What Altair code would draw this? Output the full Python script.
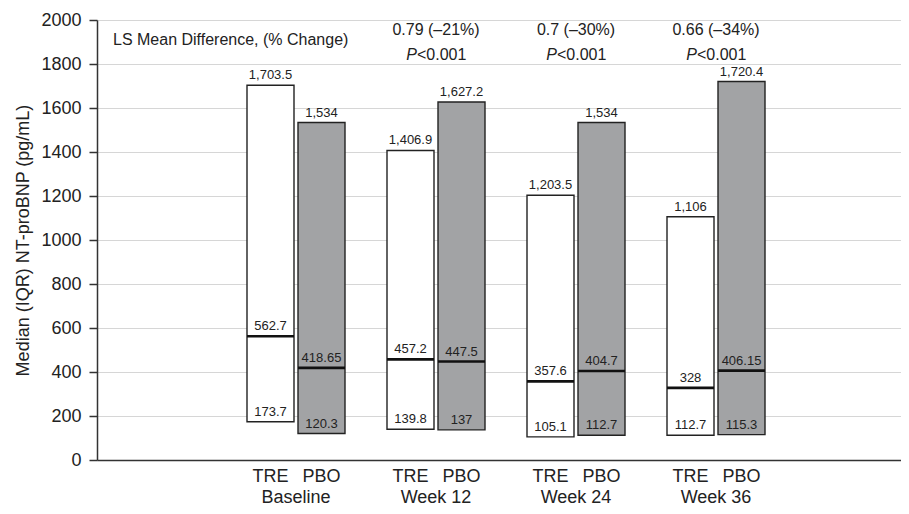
import altair as alt
import pandas as pd

groups = ["Baseline", "Week 12", "Week 24", "Week 36"]
arms = ["TRE", "PBO"]
tre_q1 = [173.7, 139.8, 105.1, 112.7]
tre_med = [562.7, 457.2, 357.6, 328]
tre_q3 = [1703.5, 1406.9, 1203.5, 1106]
pbo_q1 = [120.3, 137, 112.7, 115.3]
pbo_med = [418.65, 447.5, 404.7, 406.15]
pbo_q3 = [1534, 1627.2, 1534, 1720.4]
diff_labels = ["", "0.79 (–21%)", "0.7 (–30%)", "0.66 (–34%)"]
p_labels = ["", "<0.001", "<0.001", "<0.001"]
y_ticks = list(range(0, 2001, 200))

HALF = 0.35
GAP = 0.0143

rows = []
for g, name in enumerate(groups):
    for arm, q1, med, q3 in (("TRE", tre_q1[g], tre_med[g], tre_q3[g]),
                             ("PBO", pbo_q1[g], pbo_med[g], pbo_q3[g])):
        if arm == "TRE":
            x0, x1 = g - HALF, g - GAP
        else:
            x0, x1 = g + GAP, g + HALF
        rows.append(dict(group=name, arm=arm, x0=x0, x1=x1, xc=(x0 + x1) / 2,
                         q1=q1, med=med, q3=q3))
bars = pd.DataFrame(rows)

lab_rows = []
for r in rows:
    for key in ("q1", "med", "q3"):
        lab_rows.append(dict(xc=r["xc"], v=r[key], label=f"{r[key]:,}"))
labels = pd.DataFrame(lab_rows)

grp = pd.DataFrame(dict(g=list(range(len(groups))), group=groups,
                        diff=diff_labels, p=["P" if s else "" for s in p_labels],
                        pv=p_labels))

FONT = "Liberation Sans"
TXT = "#222222"

xscale = alt.Scale(domain=[-1.4214, 4.3214], nice=False, zero=False)
yscale = alt.Scale(domain=[0, 2000], nice=False)

base = alt.Chart(bars)

rects = base.mark_rect(stroke="#222222", strokeWidth=1.4).encode(
    x=alt.X("x0:Q", scale=xscale,
            axis=alt.Axis(title=None, labels=False, ticks=False, grid=False,
                          domainColor="#333333", domainWidth=1.5)),
    x2="x1:Q",
    y=alt.Y("q1:Q", scale=yscale,
            axis=alt.Axis(values=y_ticks, format="d",
                          title="Median (IQR) NT-proBNP (pg/mL)",
                          titleFont=FONT, titleFontSize=18, titleFontWeight="normal",
                          titleColor=TXT, titlePadding=8,
                          labelFont=FONT, labelFontSize=18, labelColor=TXT,
                          labelPadding=8, tickSize=8, tickColor="#333333",
                          tickWidth=1.5, domainColor="#333333", domainWidth=1.5,
                          grid=True, gridColor="#d6d6d6", gridWidth=1)),
    y2="q3:Q",
    fill=alt.Fill("arm:N", scale=alt.Scale(domain=arms, range=["#ffffff", "#a2a3a5"]),
                  legend=None),
)

medians = base.mark_rule(color="#111111", strokeWidth=2.6).encode(
    x=alt.X("x0:Q", scale=xscale), x2="x1:Q", y=alt.Y("med:Q", scale=yscale)
)

vals = alt.Chart(labels).mark_text(font=FONT, fontSize=13, color=TXT,
                                   baseline="bottom", dy=-3).encode(
    x=alt.X("xc:Q", scale=xscale), y=alt.Y("v:Q", scale=yscale), text="label:N"
)

arm_labels = base.mark_text(font=FONT, fontSize=18, color=TXT, baseline="alphabetic").encode(
    x=alt.X("xc:Q", scale=xscale), y=alt.value(462), text="arm:N"
)

grp_chart = alt.Chart(grp)
grp_labels = grp_chart.mark_text(font=FONT, fontSize=18, color=TXT, baseline="alphabetic").encode(
    x=alt.X("g:Q", scale=xscale), y=alt.value(483), text="group:N"
)
diff_text = grp_chart.mark_text(font=FONT, fontSize=16, color=TXT, baseline="middle").encode(
    x=alt.X("g:Q", scale=xscale), y=alt.value(10), text="diff:N"
)
p_text = grp_chart.mark_text(font=FONT, fontSize=16, color=TXT, baseline="middle",
                             align="right", dx=-19, fontStyle="italic").encode(
    x=alt.X("g:Q", scale=xscale), y=alt.value(35), text="p:N"
)
pv_text = grp_chart.mark_text(font=FONT, fontSize=16, color=TXT, baseline="middle",
                              align="left", dx=-19).encode(
    x=alt.X("g:Q", scale=xscale), y=alt.value(35), text="pv:N"
)
ls_text = alt.Chart(pd.DataFrame({"t": ["LS Mean Difference, (% Change)"]})).mark_text(
    font=FONT, fontSize=16, color=TXT, baseline="middle", align="left").encode(
    x=alt.value(16), y=alt.value(20), text="t:N"
)

chart = alt.layer(rects, medians, vals, arm_labels, grp_labels, diff_text,
                  p_text, pv_text, ls_text).properties(
    width=804, height=440,
    autosize=alt.AutoSizeParams(type="none"),
    padding={"left": 89, "top": 12, "right": 0, "bottom": 46},
).configure_view(stroke=None).configure(background="white")

chart.save("out.html", embed_options={"renderer": "svg", "actions": False})
